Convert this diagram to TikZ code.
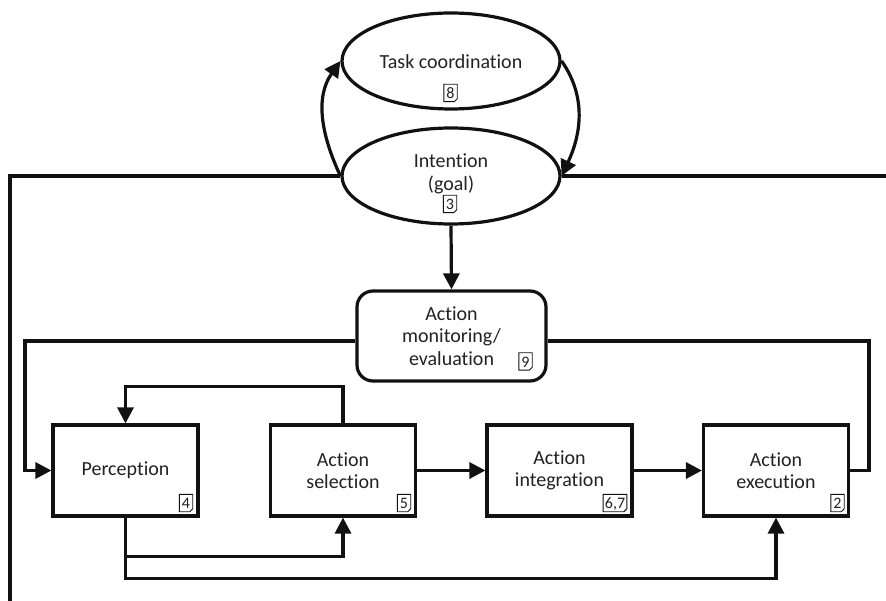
\documentclass[tikz,border=0pt]{standalone}
\usepackage{fontspec}
\setmainfont{Carlito}[Ligatures=NoCommon]
\usetikzlibrary{arrows.meta,shapes.geometric}
\definecolor{ink}{HTML}{111111}
\definecolor{txt}{HTML}{222222}
\tikzset{
  conn/.style={draw=ink, line width=3.2pt},
  arr/.style={conn, -{Triangle[length=16pt,width=16pt]}},
  procbox/.style={draw=ink, line width=3.2pt, minimum width=145pt, minimum height=91pt, inner sep=2pt, align=center, text=txt, font=\fontsize{20}{22.5}\selectfont},
  ellbox/.style={ellipse, draw=ink, line width=3.2pt, minimum width=218pt, minimum height=96pt, inner sep=0pt},
  lbl/.style={align=center, text=txt, font=\fontsize{20}{22.5}\selectfont, inner sep=0pt},
  numbox/.style={text=txt, font=\fontsize{16}{16}\selectfont, inner sep=1.6pt, text height=11.5pt, text depth=0pt, minimum height=17pt, minimum width=13pt},
  notefr/.style={draw=ink, line width=0.9pt},
}
\newcommand\refbox[3]{%
  \node[numbox] (#1) at (#2) {#3};
  \draw[notefr] (#1.north west) -- (#1.north east) -- ([yshift=3pt]#1.south east) -- ([xshift=-3pt]#1.south east) -- (#1.south west) -- cycle;}
\begin{document}
\begin{tikzpicture}[x=1pt,y=-1pt]
\useasboundingbox (0,0) rectangle (886,601);
% ellipses
\node[ellbox] (task) at (451,61) {};
\node[ellbox] (int) at (451,176) {};
\node[lbl] (tasktxt) at (451,62) {Task coordination};
\refbox{n8}{450.5,93}{8}
\node[lbl] (inttxt) at (451,174) {Intention\\(goal)};
\refbox{n3}{450,204}{3}
% loop arcs
\draw[arr] (int.west) to[out=115,in=235] (task.west);
\draw[arr] (task.east) to[out=-55,in=65] (int.east);
% long horizontal lines
\coordinate (lbot) at (10,601);
\coordinate (rend) at (886,176);
\draw[conn] (int.west) -| (lbot);
\draw[conn] (int.east) -- (rend);
% monitoring
\node[draw=ink, line width=3.2pt, rounded corners=16pt, minimum width=189pt, minimum height=90pt, align=center, text=txt, font=\fontsize{20}{22.5}\selectfont, inner sep=0pt] (mon) at (451.5,336) {Action\\monitoring/\\evaluation};
\refbox{n9}{525.5,361.5}{9}
\draw[arr] (int.south) -- (mon.north);
% process boxes
\node[procbox] (perc) at (125.5,470.5) {Perception};
\node[procbox] (sel) at (343,470.5) {Action\\selection};
\node[procbox] (integ) at (559.5,470.5) {Action\\integration};
\node[procbox] (exec) at (776,470.5) {Action\\execution};
\refbox{n4}{186,503}{4}
\refbox{n5}{404,503}{5}
\refbox{n67}{615,503}{6,7}
\refbox{n2}{837.5,503}{2}
% monitoring to perception / execution
\coordinate (lx) at (25,0);
\coordinate (rx) at (869,0);
\draw[arr] ([yshift=-5pt]mon.west) -| (lx |- perc.west) -- (perc.west);
\draw[conn] ([yshift=-5pt]mon.east) -| (rx |- exec.east) -- (exec.east);
% chain
\draw[arr] (sel.east) -- (integ.west);
\draw[arr] (integ.east) -- (exec.west);
% feedback loops
\draw[arr] (sel.north) -- ++(0,-37) -| (perc.north);
\draw[arr] (perc.south) -- ++(0,39) -| (sel.south);
\draw[arr] (perc.south) -- ++(0,61) -| (exec.south);
\end{tikzpicture}
\end{document}
